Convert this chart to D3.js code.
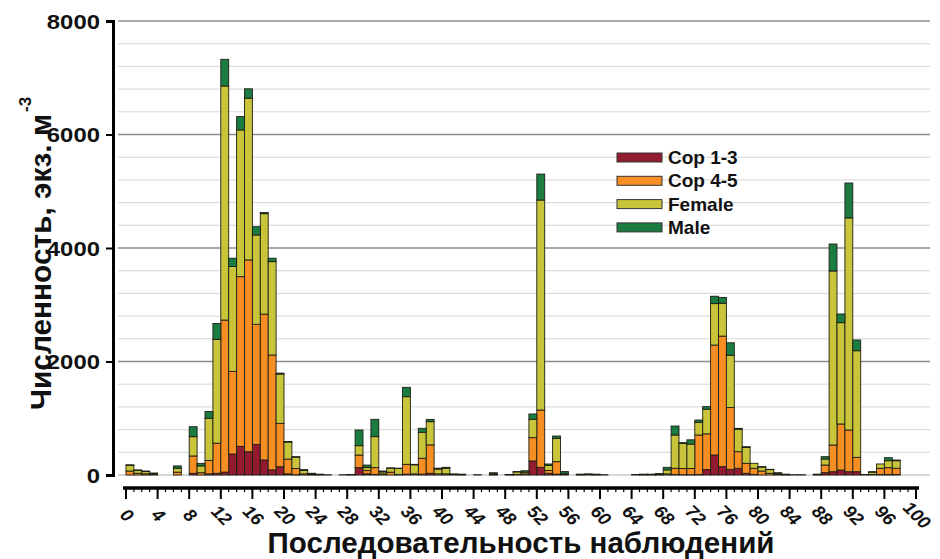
<!DOCTYPE html>
<html>
<head>
<meta charset="utf-8">
<script src="https://cdn.jsdelivr.net/npm/d3@7"></script>
<style>
  body { margin: 0; background: #fff; }
  svg { font-family: "Liberation Sans", Arial, sans-serif; }
</style>
</head>
<body>
<div id="chart"></div>
<script>
// observation number 0..97, one bar each
var cop13 = [0,0,0,0,0,0,0,0,30,0, 20,30,50,370,505,410,540,265,90,145,
             20,5,0,0,0,0,0,0,0,129, 20,10,0,0,0,15,0,15,30,0,
             0,0,0,0,0,0,0,0,0,0, 0,247,135,30,15,0,0,0,0,0,
             0,0,0,0,0,0,0,0,0,10, 5,5,10,95,352,147,100,118,30,10,
             0,0,0,0,0,0,0,0,41,58, 88,58,58,0,0,10,10,10];
var cop45 = [70,30,20,10,0,0,50,0,305,40, 235,530,2680,1455,2990,3380,2115,2570,2025,765,
             260,110,20,5,0,0,0,0,0,223, 60,120,20,50,10,173,20,280,500,20,
             20,0,0,0,0,0,5,0,0,10, 20,411,1010,50,220,10,0,0,0,0,
             0,0,0,0,0,0,0,5,20,108, 110,110,695,630,1938,2300,1090,293,176,108,
             70,30,10,0,0,0,0,0,135,471, 811,735,253,0,10,108,119,108];
var female = [100,50,40,15,0,0,70,0,340,120, 745,1830,4125,1850,2585,2850,1575,1770,1645,870,
              300,200,60,15,5,0,0,0,5,165, 50,546,35,70,105,1192,160,458,410,85,
              100,10,5,0,0,0,15,0,5,45, 30,323,3700,90,411,20,0,5,10,5,
              0,0,0,0,0,5,5,10,70,587, 440,430,223,435,730,580,920,395,280,88,
              70,65,20,5,0,0,0,5,106,3066, 1785,3737,1879,0,40,76,123,134];
var male = [10,10,10,10,0,0,40,0,176,45, 118,280,470,145,235,165,145,20,60,15,
            10,8,15,10,10,5,0,5,5,276, 45,305,15,5,5,165,8,70,40,15,
            15,10,10,0,5,0,20,0,5,5, 25,94,458,24,41,30,0,10,10,10,
            5,0,0,0,10,10,10,10,45,158, 15,75,41,45,130,100,220,16,13,0,
            7,5,10,10,5,5,0,10,41,475, 153,615,189,10,8,0,53,12];

var series_names = ["Cop 1-3", "Cop 4-5", "Female", "Male"];
var series_colors = ["#921b2f", "#f68e23", "#c8c53a", "#1b7c42"];
var y_ticks = [0, 2000, 4000, 6000, 8000];
var x_ticks = d3.range(0, 101, 4);

var width = 940, height = 559,
    plot = {left: 126, right: 916, top: 21, bottom: 475};

var svg = d3.select("#chart").append("svg")
    .attr("width", width)
    .attr("height", height);

var x = d3.scaleLinear().domain([0, 100]).range([plot.left, plot.right]);
var y = d3.scaleLinear().domain([0, 8000]).range([plot.bottom, plot.top]);

// table for d3.stack
var rows = cop13.map(function(d, i) {
    return {i: i, c13: d, c45: cop45[i], fem: female[i], mal: male[i]};
});
var keys = ["c13", "c45", "fem", "mal"];
var stacked = d3.stack().keys(keys)(rows);

// gridlines: light every 400, darker every 2000
var grid = svg.append("g");
grid.selectAll("line.minor")
    .data(d3.range(400, 8001, 400).filter(function(v) { return v % 2000 !== 0; }))
    .enter().append("line")
    .attr("x1", 118).attr("x2", 930)
    .attr("y1", function(d) { return y(d); })
    .attr("y2", function(d) { return y(d); })
    .attr("stroke", "#d6d6d6")
    .attr("stroke-width", 1);
grid.selectAll("line.major")
    .data(y_ticks.filter(function(v) { return v > 0; }))
    .enter().append("line")
    .attr("x1", 118).attr("x2", 930)
    .attr("y1", function(d) { return y(d); })
    .attr("y2", function(d) { return y(d); })
    .attr("stroke", "#8c8c8c")
    .attr("stroke-width", 1.5);
grid.append("line")
    .attr("x1", 118).attr("x2", 930)
    .attr("y1", y(0)).attr("y2", y(0))
    .attr("stroke", "#b0b0b0").attr("stroke-width", 1);

// bars
svg.append("g").selectAll("g")
    .data(stacked)
    .enter().append("g")
    .attr("fill", function(d, k) { return series_colors[k]; })
    .selectAll("rect")
    .data(function(d) { return d.filter(function(s) { return s[1] - s[0] > 0; }); })
    .enter().append("rect")
    .attr("x", function(d) { return x(d.data.i); })
    .attr("width", function(d) { return x(d.data.i + 1) - x(d.data.i); })
    .attr("y", function(d) { return y(d[1]); })
    .attr("height", function(d) { return y(d[0]) - y(d[1]); })
    .attr("stroke", "#1e1e14")
    .attr("stroke-width", 0.9);

// y axis
var yAxis = d3.axisLeft(y).tickValues(y_ticks).tickSize(7).tickFormat(d3.format("d"));
var gy = svg.append("g").attr("transform", "translate(113,0)").call(yAxis);
gy.select(".domain").attr("stroke", "#000").attr("stroke-width", 3);
gy.selectAll(".tick line").attr("stroke", "#000").attr("stroke-width", 2);
gy.selectAll(".tick text")
    .attr("x", -13)
    .attr("dy", "0.35em")
    .attr("font-size", 20)
    .attr("font-weight", "bold")
    .attr("fill", "#111")
    .attr("textLength", function(d) { return String(d).length * 13.3; })
    .attr("lengthAdjust", "spacingAndGlyphs");

// x axis, drawn below the baseline
var gx = svg.append("g").attr("transform", "translate(0,488)");
gx.append("line")
    .attr("x1", 123).attr("x2", 919)
    .attr("stroke", "#000").attr("stroke-width", 3.5);
gx.selectAll("line.minor")
    .data(d3.range(0, 101))
    .enter().append("line")
    .attr("x1", function(d) { return x(d); })
    .attr("x2", function(d) { return x(d); })
    .attr("y1", 0).attr("y2", 4)
    .attr("stroke", "#000").attr("stroke-width", 1.2);
gx.selectAll("line.major")
    .data(x_ticks)
    .enter().append("line")
    .attr("x1", function(d) { return x(d); })
    .attr("x2", function(d) { return x(d); })
    .attr("y1", 0).attr("y2", 11)
    .attr("stroke", "#000").attr("stroke-width", 2);
gx.selectAll("text")
    .data(x_ticks)
    .enter().append("text")
    .attr("transform", function(d) { return "translate(" + (x(d) + 1) + ",27) rotate(45)"; })
    .attr("text-anchor", "middle")
    .attr("dy", "0.35em")
    .attr("font-size", 18)
    .attr("font-style", "italic")
    .attr("font-weight", "bold")
    .attr("fill", "#111")
    .text(function(d) { return d; });

// axis titles
svg.append("text")
    .attr("transform", "translate(51,410) rotate(-90)")
    .attr("font-size", 30)
    .attr("font-weight", "bold")
    .attr("fill", "#111")
    .attr("textLength", 296)
    .attr("lengthAdjust", "spacingAndGlyphs")
    .text("Численность, экз. м");
svg.append("text")
    .attr("transform", "translate(31,112) rotate(-90)")
    .attr("font-size", 17)
    .attr("font-weight", "bold")
    .attr("fill", "#111")
    .text("-3");
svg.append("text")
    .attr("x", 521).attr("y", 553)
    .attr("text-anchor", "middle")
    .attr("font-size", 30)
    .attr("font-weight", "bold")
    .attr("fill", "#111")
    .attr("textLength", 507)
    .attr("lengthAdjust", "spacingAndGlyphs")
    .text("Последовательность наблюдений");

// legend
var legend = svg.append("g").attr("transform", "translate(617,153)");
var item = legend.selectAll("g")
    .data(series_names)
    .enter().append("g")
    .attr("transform", function(d, k) { return "translate(0," + (k * 23.3) + ")"; });
item.append("rect")
    .attr("width", 45).attr("height", 9)
    .attr("fill", function(d, k) { return series_colors[k]; })
    .attr("stroke", "#333").attr("stroke-width", 1);
item.append("text")
    .attr("x", 51).attr("y", 11)
    .attr("font-size", 19)
    .attr("font-weight", "bold")
    .attr("fill", "#111")
    .text(function(d) { return d; });
</script>
</body>
</html>
